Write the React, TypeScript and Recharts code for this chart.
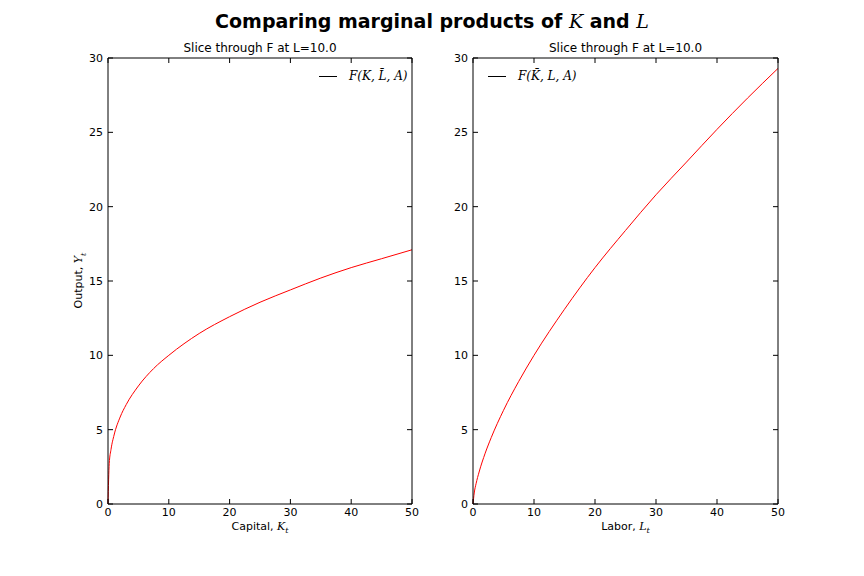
import React from "react";
import { LineChart, Line, XAxis, YAxis } from "recharts";

const inputs = [0, 0.2, 0.5, 1, 2, 3, 5, 7.5, 10, 15, 20, 25, 30, 35, 40, 45, 50];
const capitalOutput = [0, 2.71, 3.68, 4.64, 5.85, 6.69, 7.94, 9.11, 10.0, 11.47, 12.6, 13.57, 14.4, 15.2, 15.9, 16.5, 17.1];
const laborOutput = [0, 0.74, 1.36, 2.15, 3.42, 4.48, 6.3, 8.25, 10.0, 13.1, 15.9, 18.4, 20.8, 23.0, 25.2, 27.3, 29.3];
const xTicks = [0, 10, 20, 30, 40, 50];
const yTicks = [0, 5, 10, 15, 20, 25, 30];

const font = "'DejaVu Sans', sans-serif";

const tickText = { fontSize: 11, fontFamily: font, fill: "#000" };

const BottomTick = (p: any) => (
    <g>
        <line x1={p.x} x2={p.x} y1={p.y} y2={p.y - 5} stroke="#000" />
        <text x={p.x} y={p.y + 12} textAnchor="middle" {...tickText}>{p.payload.value}</text>
    </g>
);
const TopTick = (p: any) => <line x1={p.x} x2={p.x} y1={p.y} y2={p.y + 5} stroke="#000" />;
const LeftTick = (p: any) => (
    <g>
        <line x1={p.x} x2={p.x + 5} y1={p.y} y2={p.y} stroke="#000" />
        <text x={p.x - 5} y={p.y + 4} textAnchor="end" {...tickText}>{p.payload.value}</text>
    </g>
);
const RightTick = (p: any) => <line x1={p.x} x2={p.x - 5} y1={p.y} y2={p.y} stroke="#000" />;

const Panel: React.FC<{
    values: number[];
    left: number;
    marginLeft: number;
    marginRight: number;
}> = ({ values, left, marginLeft, marginRight }) => {
    const data = inputs.map((x, i) => ({ x, y: values[i] }));
    return (
        <div style={{ position: "absolute", left, top: 0 }}>
            <LineChart
                width={432}
                height={576}
                data={data}
                margin={{ top: 57, bottom: 71, left: marginLeft - 1, right: marginRight - 1 }}
            >
                <XAxis xAxisId="b" dataKey="x" type="number" domain={[0, 50]} ticks={xTicks}
                    height={1} tickSize={0} tickMargin={0} tickLine={false} stroke="#000" tick={BottomTick} />
                <XAxis xAxisId="t" orientation="top" dataKey="x" type="number" domain={[0, 50]} ticks={xTicks}
                    height={1} tickSize={0} tickMargin={0} tickLine={false} stroke="#000" tick={TopTick} />
                <YAxis yAxisId="l" type="number" domain={[0, 30]} ticks={yTicks}
                    width={1} tickSize={0} tickMargin={0} tickLine={false} stroke="#000" tick={LeftTick} />
                <YAxis yAxisId="r" orientation="right" type="number" domain={[0, 30]} ticks={yTicks}
                    width={1} tickSize={0} tickMargin={0} tickLine={false} stroke="#000" tick={RightTick} />
                <Line xAxisId="t" yAxisId="r" type="monotone" dataKey="y" stroke="none"
                    dot={false} isAnimationActive={false} />
                <Line xAxisId="b" yAxisId="l" type="monotone" dataKey="y" stroke="#ff0000"
                    strokeWidth={1} dot={false} isAnimationActive={false} />
            </LineChart>
        </div>
    );
};

const abs = (x: number, y: number, extra: React.CSSProperties = {}): React.CSSProperties => ({
    position: "absolute", left: x, top: y, fontFamily: font, fontSize: 12, whiteSpace: "nowrap", ...extra,
});

const Legend: React.FC<{ x: number; y: number; label: React.ReactNode }> = ({ x, y, label }) => (
    <div style={abs(x, y, { display: "flex", alignItems: "center" })}>
        <div style={{ width: 18, height: 1, background: "#000", marginRight: 12 }} />
        <span style={{ fontFamily: "'DejaVu Serif', serif", fontStyle: "italic", fontSize: 12 }}>{label}</span>
    </div>
);

export default function App() {
    return (
        <div style={{ position: "absolute", left: 0, top: 0, width: 864, height: 576, background: "#fff" }}>
            <Panel values={capitalOutput} left={0} marginLeft={108} marginRight={20} />
            <Panel values={laborOutput} left={432} marginLeft={41} marginRight={86} />
            <div style={abs(0, 10, { width: 864, textAlign: "center", fontSize: 19, fontWeight: "bold" })}>
                Comparing marginal products of <i style={{ fontFamily: "'DejaVu Serif', serif", fontWeight: "normal" }}>K</i> and{" "}
                <i style={{ fontFamily: "'DejaVu Serif', serif", fontWeight: "normal" }}>L</i>
            </div>
            <div style={abs(108, 41, { width: 304, textAlign: "center" })}>Slice through F at L=10.0</div>
            <div style={abs(473, 41, { width: 305, textAlign: "center" })}>Slice through F at L=10.0</div>
            <Legend x={319} y={69} label={<>F(K, L̄, A)</>} />
            <Legend x={488} y={69} label={<>F(K̄, L, A)</>} />
            <div style={abs(108, 520, { width: 304, textAlign: "center", fontSize: 11 })}>
                Capital, <i style={{ fontFamily: "'DejaVu Serif', serif" }}>K<sub style={{ fontSize: 8 }}>t</sub></i>
            </div>
            <div style={abs(473, 520, { width: 305, textAlign: "center", fontSize: 11 })}>
                Labor, <i style={{ fontFamily: "'DejaVu Serif', serif" }}>L<sub style={{ fontSize: 8 }}>t</sub></i>
            </div>
            <div style={abs(40, 273, { fontSize: 11, transform: "rotate(-90deg)", transformOrigin: "center", width: 80, textAlign: "center" })}>
                Output, <i style={{ fontFamily: "'DejaVu Serif', serif" }}>Y<sub style={{ fontSize: 8 }}>t</sub></i>
            </div>
        </div>
    );
}
